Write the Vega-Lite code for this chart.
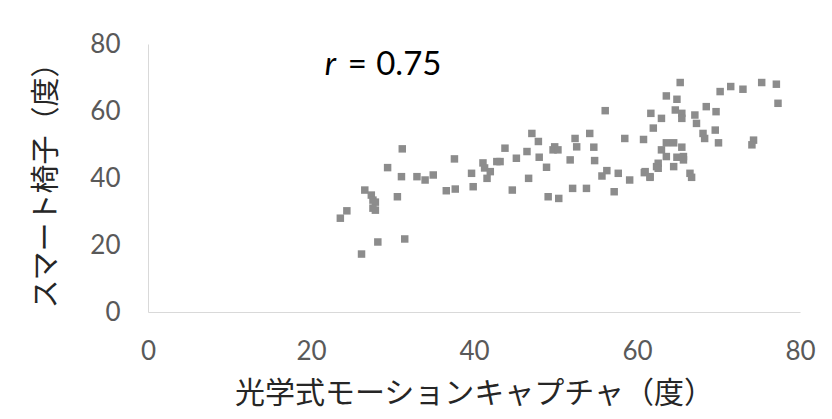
{
  "$schema": "https://vega.github.io/schema/vega-lite/v6.json",
  "width": 652,
  "height": 268,
  "autosize": {"type": "none"},
  "padding": {"left": 148, "top": 44, "right": 32, "bottom": 107},
  "background": "white",
  "config": {"view": {"stroke": null}},
  "datasets": {
    "pts": [
      {"x": 31.2, "y": 48.7}, {"x": 37.6, "y": 45.7}, {"x": 29.4, "y": 43.1}, {"x": 31.1, "y": 40.4},
      {"x": 33.0, "y": 40.4}, {"x": 34.0, "y": 39.4}, {"x": 35.0, "y": 40.9}, {"x": 26.6, "y": 36.4},
      {"x": 27.4, "y": 34.9}, {"x": 27.6, "y": 33.4}, {"x": 27.9, "y": 32.8}, {"x": 27.6, "y": 31.0},
      {"x": 27.9, "y": 30.4}, {"x": 30.6, "y": 34.4}, {"x": 23.6, "y": 28.0}, {"x": 24.4, "y": 30.2},
      {"x": 28.2, "y": 20.9}, {"x": 31.5, "y": 21.8}, {"x": 26.2, "y": 17.3}, {"x": 36.6, "y": 36.2},
      {"x": 37.7, "y": 36.7}, {"x": 39.9, "y": 37.4}, {"x": 39.7, "y": 41.4}, {"x": 41.1, "y": 44.5},
      {"x": 41.3, "y": 43.0}, {"x": 42.0, "y": 41.9}, {"x": 41.6, "y": 39.9}, {"x": 42.8, "y": 44.9},
      {"x": 56.1, "y": 60.1}, {"x": 61.7, "y": 59.3}, {"x": 62.0, "y": 54.9}, {"x": 47.1, "y": 53.3},
      {"x": 47.9, "y": 50.9}, {"x": 54.2, "y": 53.3}, {"x": 52.4, "y": 51.8}, {"x": 52.6, "y": 49.3},
      {"x": 49.9, "y": 49.3}, {"x": 49.7, "y": 48.4}, {"x": 50.3, "y": 48.4}, {"x": 43.8, "y": 48.9},
      {"x": 46.5, "y": 47.9}, {"x": 45.2, "y": 45.9}, {"x": 43.2, "y": 44.9}, {"x": 48.0, "y": 46.2},
      {"x": 51.8, "y": 45.4}, {"x": 54.7, "y": 49.2}, {"x": 54.8, "y": 45.2}, {"x": 48.9, "y": 43.2},
      {"x": 58.5, "y": 51.8}, {"x": 60.8, "y": 51.5}, {"x": 56.3, "y": 42.2}, {"x": 55.7, "y": 40.6},
      {"x": 57.7, "y": 41.4}, {"x": 59.1, "y": 39.4}, {"x": 60.9, "y": 41.6}, {"x": 61.6, "y": 40.2},
      {"x": 62.4, "y": 43.4}, {"x": 46.7, "y": 39.9}, {"x": 44.7, "y": 36.4}, {"x": 52.1, "y": 36.9},
      {"x": 53.8, "y": 36.9}, {"x": 49.1, "y": 34.4}, {"x": 50.4, "y": 33.9}, {"x": 57.2, "y": 35.9},
      {"x": 65.3, "y": 68.5}, {"x": 70.2, "y": 65.8}, {"x": 71.5, "y": 67.3}, {"x": 73.0, "y": 66.5},
      {"x": 75.3, "y": 68.5}, {"x": 77.1, "y": 68.0}, {"x": 77.3, "y": 62.3}, {"x": 63.6, "y": 64.5},
      {"x": 64.9, "y": 63.5}, {"x": 68.5, "y": 61.3}, {"x": 69.7, "y": 59.8}, {"x": 64.7, "y": 60.3},
      {"x": 65.5, "y": 59.3}, {"x": 65.5, "y": 57.8}, {"x": 63.0, "y": 57.8}, {"x": 67.1, "y": 58.8},
      {"x": 67.3, "y": 56.3}, {"x": 68.1, "y": 53.3}, {"x": 68.3, "y": 51.8}, {"x": 69.6, "y": 54.3},
      {"x": 70.0, "y": 50.5}, {"x": 74.3, "y": 51.3}, {"x": 74.1, "y": 49.9}, {"x": 63.6, "y": 50.5},
      {"x": 64.5, "y": 50.5}, {"x": 65.5, "y": 49.2}, {"x": 63.0, "y": 48.4}, {"x": 63.6, "y": 46.4},
      {"x": 64.9, "y": 46.2}, {"x": 65.7, "y": 46.4}, {"x": 62.6, "y": 44.4}, {"x": 62.6, "y": 42.9},
      {"x": 64.5, "y": 43.4}, {"x": 65.7, "y": 45.4}, {"x": 61.0, "y": 41.9}, {"x": 61.6, "y": 40.4},
      {"x": 66.5, "y": 41.4}, {"x": 66.7, "y": 40.2}
    ],
    "ann": [
      {"x": 21.7, "y": 70.6, "t": "r"}
    ],
    "ann2": [
      {"x": 24.5, "y": 70.6, "t": "="},
      {"x": 28.0, "y": 70.6, "t": "0.75"}
    ]
  },
  "layer": [
    {
      "data": {"name": "pts"},
      "mark": {"type": "square", "size": 56, "color": "#8c8c8c", "opacity": 1},
      "encoding": {
        "x": {
          "field": "x", "type": "quantitative",
          "scale": {"domain": [0, 80], "nice": false, "zero": true},
          "axis": {
            "values": [0, 20, 40, 60, 80], "grid": false, "ticks": false,
            "domainColor": "#d9d9d9", "domainWidth": 1,
            "labelFont": "Lato", "labelFontSize": 26, "labelColor": "#595959",
            "labelPadding": 26, "labelFlush": false,
            "title": "光学式モーションキャプチャ（度）",
            "titleFont": "Noto Sans CJK JP", "titleFontSize": 30, "titleFontWeight": "normal",
            "titleColor": "#262626", "titlePadding": 14
          }
        },
        "y": {
          "field": "y", "type": "quantitative",
          "scale": {"domain": [0, 80], "nice": false, "zero": true},
          "axis": {
            "values": [0, 20, 40, 60, 80], "grid": false, "ticks": false,
            "domainColor": "#d9d9d9", "domainWidth": 1,
            "labelFont": "Lato", "labelFontSize": 26, "labelColor": "#595959",
            "labelPadding": 28, "labelFlush": false,
            "title": "スマート椅子（度）",
            "titleFont": "Noto Sans CJK JP", "titleFontSize": 29, "titleFontWeight": "normal",
            "titleColor": "#262626", "titlePadding": 28
          }
        }
      }
    },
    {
      "data": {"name": "ann"},
      "mark": {"type": "text", "font": "Lato", "fontSize": 33, "fontStyle": "italic", "color": "#000000", "align": "left", "baseline": "alphabetic"},
      "encoding": {
        "x": {"field": "x", "type": "quantitative"},
        "y": {"field": "y", "type": "quantitative"},
        "text": {"field": "t"}
      }
    },
    {
      "data": {"name": "ann2"},
      "mark": {"type": "text", "font": "Lato", "fontSize": 33, "color": "#000000", "align": "left", "baseline": "alphabetic"},
      "encoding": {
        "x": {"field": "x", "type": "quantitative"},
        "y": {"field": "y", "type": "quantitative"},
        "text": {"field": "t"}
      }
    }
  ]
}
